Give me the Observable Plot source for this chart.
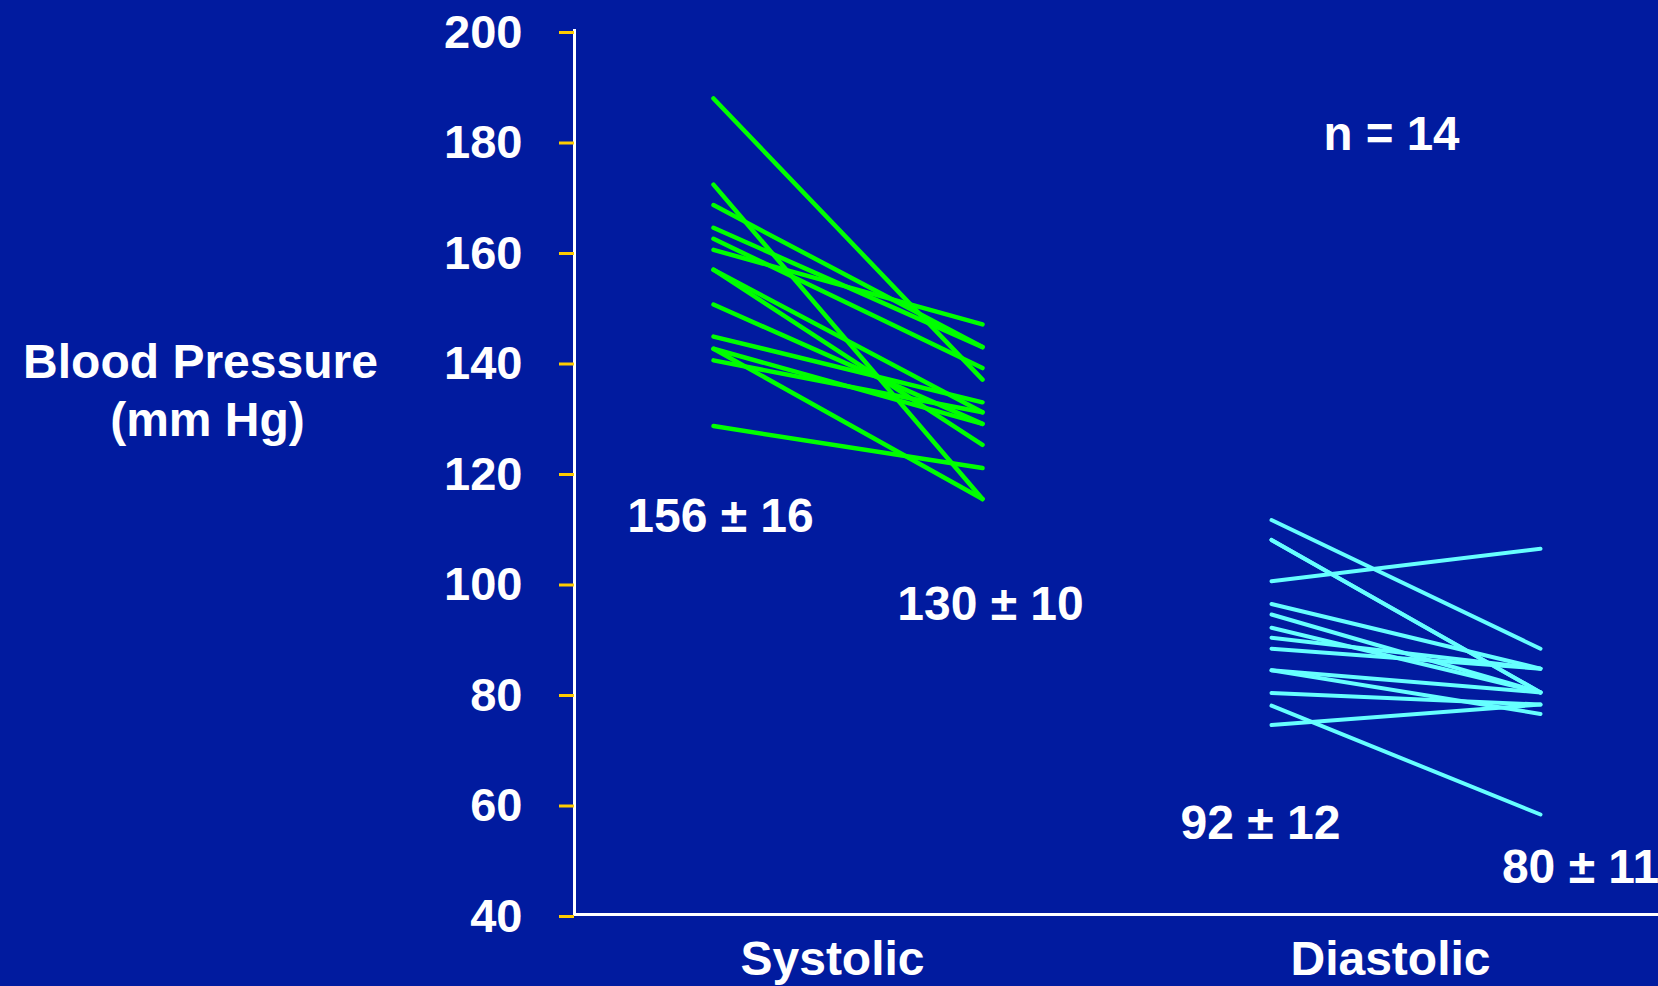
<!DOCTYPE html>
<html>
<head>
<meta charset="utf-8">
<script src="https://cdn.jsdelivr.net/npm/d3@7"></script>
<script src="https://cdn.jsdelivr.net/npm/@observablehq/plot@0.6"></script>
<style>
  html, body { margin: 0; padding: 0; background: #011b9f; overflow: hidden; }
  #chart svg { display: block; overflow: hidden; }
</style>
</head>
<body>
<div id="chart"></div>
<script>
// Paired blood pressure readings (mm Hg), one entry per subject, before → after
const groups = ["Systolic", "Diastolic"];
const stages = ["Before", "After"];

const systolicBefore = [187.7, 172.1, 168.4, 164.3, 162.3, 160.3, 156.7, 156.7, 150.4, 144.6, 142.4, 142.4, 140.3, 128.4];
const systolicAfter  = [136.8, 115.2, 142.7, 142.7, 138.9, 146.8, 130.9, 125.0, 128.8, 132.7, 128.8, 115.2, 130.9, 120.8];

const diastolicBefore = [111.4, 107.8, 107.8, 100.3, 96.2, 94.3, 91.9, 90.1, 88.1, 84.2, 84.2, 80.1, 77.8, 74.3];
const diastolicAfter  = [88.1, 80.2, 80.2, 106.2, 84.5, 80.2, 80.2, 84.5, 84.5, 80.2, 76.3, 78.0, 58.1, 78.0];

// Group summaries (mean ± SD)
const summaryGroup = ["Systolic", "Systolic", "Diastolic", "Diastolic"];
const summaryStage = ["Before", "After", "Before", "After"];
const summaryMean = [156, 130, 92, 80];
const summarySD = [16, 10, 12, 11];
const sampleSize = 14;

const yTicks = [40, 60, 80, 100, 120, 140, 160, 180, 200];
const yTitleLines = ["Blood Pressure", "(mm Hg)"];

// Long table: one row per subject, group and stage
const rows = [];
[["Systolic", systolicBefore, systolicAfter], ["Diastolic", diastolicBefore, diastolicAfter]]
  .forEach(([group, pre, post]) => {
    pre.forEach((v, i) => {
      rows.push({group, id: i, stage: "Before", value: v});
      rows.push({group, id: i, stage: "After", value: post[i]});
    });
  });

const summaryRows = summaryMean.map((m, i) => ({
  group: summaryGroup[i],
  stage: summaryStage[i],
  label: `${m} ± ${summarySD[i]}`
}));

// Where each mean ± SD annotation sits (y in mm Hg, horizontal nudge in px)
const annotationY = [112, 96, 56.5, 48.4];
const annotationDx = [7, 8, -11, 40];

const font = "'Liberation Sans', Arial, Helvetica, sans-serif";
const white = "#ffffff";
const facetGap = 33;

const textStyle = {fill: white, fontSize: 48, fontWeight: "bold", fontFamily: font};

const chart = Plot.plot({
  width: 1658,
  height: 986,
  marginTop: 30,
  marginBottom: 72,
  marginLeft: 573,
  marginRight: 0,
  style: {
    background: "#011b9f",
    color: white,
    fontFamily: font,
    fontWeight: "bold",
    fontSize: "48px",
    overflow: "hidden"
  },
  fx: {domain: groups, paddingInner: 0.059, paddingOuter: 0, label: null},
  x: {type: "point", domain: stages, padding: 0.4333, insetLeft: 22, axis: null},
  y: {domain: [40, 200], label: null},
  color: {domain: groups, range: ["#00ff00", "#66ffff"]},
  marks: [
    // baseline (bridging the gap between the two panels) and vertical axis line
    Plot.ruleY([40], {stroke: white, strokeWidth: 3, insetRight: -facetGap}),
    Plot.frame({anchor: "left", facetAnchor: "left", stroke: white, strokeWidth: 3}),
    Plot.axisY(yTicks, {
      tickSize: 15, tickPadding: 37,
      stroke: "#ffcc00", strokeWidth: 3,
      fill: white, fontSize: 47, fontWeight: "bold", fontFamily: font,
      dy: 2, label: null
    }),
    Plot.axisFx({
      anchor: "bottom", tickSize: 0, tickPadding: 26,
      fill: white, fontSize: 48, fontWeight: "bold", fontFamily: font,
      label: null, dx: -4.5
    }),
    // subject lines
    Plot.line(rows.filter(d => d.group === "Systolic"), {
      fx: "group", x: "stage", y: "value", z: "id", stroke: "group", strokeWidth: 4.5
    }),
    Plot.line(rows.filter(d => d.group === "Diastolic"), {
      fx: "group", x: "stage", y: "value", z: "id", stroke: "group", strokeWidth: 4
    }),
    // mean ± SD annotations
    ...summaryRows.map((d, i) => Plot.text([d], {
      fx: "group", x: "stage", y: () => annotationY[i], dx: annotationDx[i],
      text: "label", ...textStyle
    })),
    // sample size
    Plot.text([`n = ${sampleSize}`], {
      fx: () => "Diastolic", y: () => 181.1, dx: -3.5, text: d => d,
      ...textStyle, fontSize: 47.5
    }),
    // y-axis title, horizontal, in the left margin (two lines)
    Plot.text([yTitleLines[0]], {
      fx: () => "Systolic", y: () => 139.8, frameAnchor: "left", textAnchor: "middle",
      dx: -374, text: d => d, ...textStyle
    }),
    Plot.text([yTitleLines[1]], {
      fx: () => "Systolic", y: () => 129.4, frameAnchor: "left", textAnchor: "middle",
      dx: -367, text: d => d, ...textStyle
    })
  ]
});

document.getElementById("chart").appendChild(chart);
</script>
</body>
</html>
